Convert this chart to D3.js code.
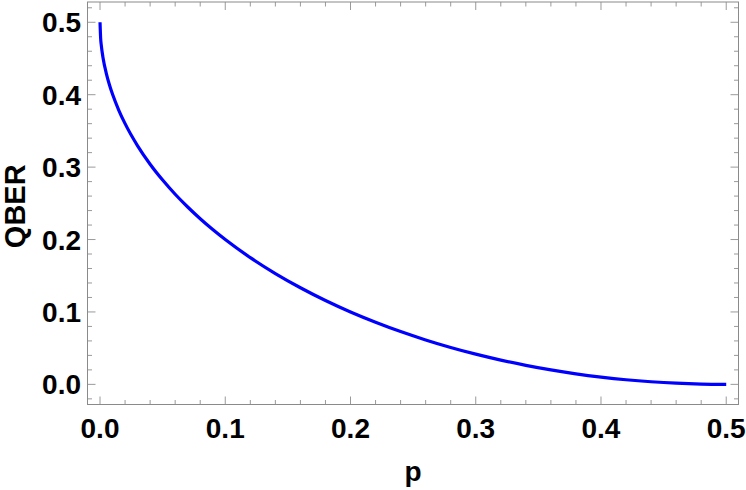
<!DOCTYPE html>
<html>
<head>
<meta charset="utf-8">
<script src="https://cdn.jsdelivr.net/npm/d3@7"></script>
<style>
html,body{margin:0;padding:0;background:#fff;}
svg{display:block;}
</style>
</head>
<body>
<svg id="chart" width="746" height="490"></svg>
<script>
// Data
const pValues = [0, 0.0005, 0.001, 0.0025, 0.005, 0.0075, 0.01, 0.015, 0.02, 0.03, 0.04, 0.05, 0.06, 0.07, 0.08, 0.09, 0.10,
  0.12, 0.14, 0.16, 0.18, 0.20, 0.22, 0.24, 0.26, 0.28, 0.30, 0.32, 0.34, 0.36, 0.38, 0.40, 0.42, 0.44, 0.46, 0.48, 0.50];
const qberValues = [0.5, 0.4776, 0.4684, 0.4501, 0.4295, 0.4137, 0.4005, 0.3785, 0.36, 0.3294, 0.3040, 0.2821, 0.2625, 0.2449, 0.2287, 0.2138, 0.2,
  0.1750, 0.1530, 0.1334, 0.1158, 0.1, 0.0858, 0.0729, 0.0614, 0.0510, 0.0417, 0.0335, 0.0263, 0.02, 0.0146, 0.0101, 0.0064, 0.0036, 0.0016, 0.0004, 0];
const xTicks = [0, 0.1, 0.2, 0.3, 0.4, 0.5];
const yTicks = [0, 0.1, 0.2, 0.3, 0.4, 0.5];
const xLabel = "p";
const yLabel = "QBER";

(function () {
const mLeft = 87.5, mRight = 738.5, mTop = 2, mBottom = 404.5;
const svg = d3.select("#chart");
const font = "'Liberation Sans', Arial, sans-serif";

const x = d3.scaleLinear().domain([-0.01, 0.5098]).range([mLeft, mRight]);
const y = d3.scaleLinear().domain([-0.0278, 0.528]).range([mBottom, mTop]);

const frameColor = "#8a8a8a";
const tickColor = "#9a9a9a";

const xMinor = d3.range(0, 0.5001, 0.02).filter(v => Math.abs(Math.round(v*10)/10 - v) > 1e-6);
const yMinor = d3.range(-0.02, 0.5201, 0.02).filter(v => Math.abs(Math.round(v*10)/10 - v) > 1e-6);

const g = svg.append("g");
const MAJ = 8, MIN = 4.5;

function tickLinesX(vals, len) {
  g.selectAll(null).data(vals).enter().append("line")
    .attr("x1", d => x(d)).attr("x2", d => x(d))
    .attr("y1", mBottom).attr("y2", mBottom - len)
    .attr("stroke", tickColor).attr("stroke-width", 1);
  g.selectAll(null).data(vals).enter().append("line")
    .attr("x1", d => x(d)).attr("x2", d => x(d))
    .attr("y1", mTop).attr("y2", mTop + len)
    .attr("stroke", tickColor).attr("stroke-width", 1);
}
function tickLinesY(vals, len) {
  g.selectAll(null).data(vals).enter().append("line")
    .attr("y1", d => y(d)).attr("y2", d => y(d))
    .attr("x1", mLeft).attr("x2", mLeft + len)
    .attr("stroke", tickColor).attr("stroke-width", 1);
  g.selectAll(null).data(vals).enter().append("line")
    .attr("y1", d => y(d)).attr("y2", d => y(d))
    .attr("x1", mRight).attr("x2", mRight - len)
    .attr("stroke", tickColor).attr("stroke-width", 1);
}
tickLinesX(xTicks, MAJ);
tickLinesX(xMinor, MIN);
tickLinesY(yTicks, MAJ);
tickLinesY(yMinor, MIN);

g.append("rect").attr("x", mLeft).attr("y", mTop)
  .attr("width", mRight - mLeft).attr("height", mBottom - mTop)
  .attr("fill", "none").attr("stroke", frameColor).attr("stroke-width", 1);

g.selectAll(null).data(xTicks).enter().append("text")
  .attr("x", d => x(d)).attr("y", 437.5)
  .attr("text-anchor", "middle")
  .attr("font-family", font).attr("font-weight", "bold").attr("font-size", 28)
  .attr("fill", "#000")
  .text(d => d3.format(".1f")(d));
g.selectAll(null).data(yTicks).enter().append("text")
  .attr("x", 81).attr("y", d => y(d) + 10)
  .attr("text-anchor", "end")
  .attr("font-family", font).attr("font-weight", "bold").attr("font-size", 28)
  .attr("fill", "#000")
  .text(d => d3.format(".1f")(d));

svg.append("text").attr("x", (mLeft + mRight) / 2).attr("y", 480.5)
  .attr("text-anchor", "middle")
  .attr("font-family", font).attr("font-weight", "bold").attr("font-size", 28)
  .text(xLabel);
svg.append("text")
  .attr("transform", `translate(24.5,${(mTop + mBottom) / 2 + 3}) rotate(-90)`)
  .attr("text-anchor", "middle")
  .attr("font-family", font).attr("font-weight", "bold").attr("font-size", 29)
  .text(yLabel);

const pts = pValues.map((p, i) => [p, qberValues[i]]);
const line = d3.line().x(d => x(d[0])).y(d => y(d[1])).curve(d3.curveMonotoneX);
svg.append("path").datum(pts)
  .attr("d", line)
  .attr("fill", "none").attr("stroke", "#0000ff").attr("stroke-width", 3.2);
})();
</script>
</body>
</html>
